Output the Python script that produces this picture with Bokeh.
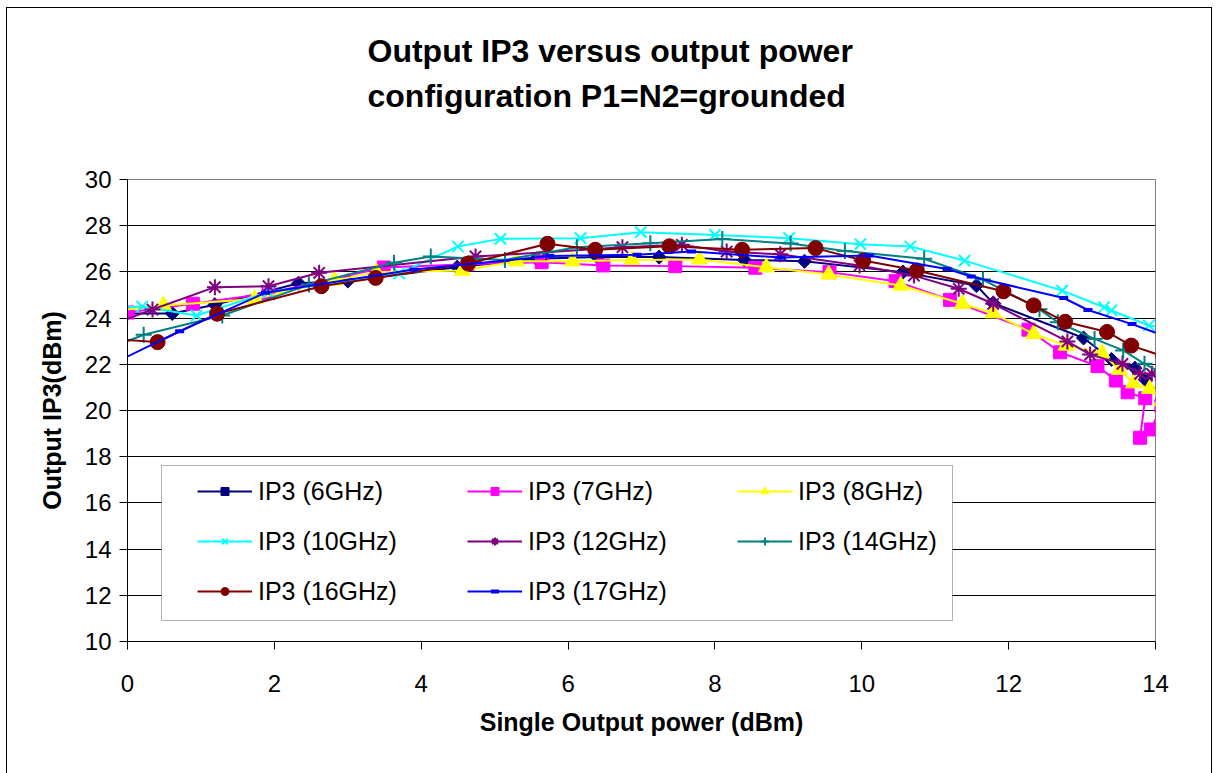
import numpy as np
from bokeh.plotting import figure
from bokeh.models import (Range1d, Legend, LegendItem, BoxAnnotation, FixedTicker,
                          InlineStyleSheet)
from bokeh.embed import file_html
from bokeh.resources import INLINE

FONT = "Liberation Sans"

# ---------------- data ----------------
labels = ["IP3 (6GHz)", "IP3 (7GHz)", "IP3 (8GHz)", "IP3 (10GHz)",
          "IP3 (12GHz)", "IP3 (14GHz)", "IP3 (16GHz)", "IP3 (17GHz)"]

x_6 = [-0.15, 0.61, 1.19, 2.33, 3.0, 4.49, 5.57, 6.40, 7.24, 8.40, 9.22, 10.56, 11.56, 11.79, 13.02, 13.40, 13.72, 13.86, 14.1]
y_6 = [24.2, 24.2, 24.58, 25.51, 25.61, 26.2, 26.57, 26.64, 26.64, 26.52, 26.46, 25.99, 25.41, 24.65, 23.14, 22.21, 21.83, 21.34, 20.6]

x_7 = [0.0, 0.89, 1.92, 3.49, 4.63, 5.64, 6.48, 7.46, 8.55, 9.56, 10.46, 11.2, 12.27, 12.70, 13.21, 13.46, 13.62, 13.86, 13.79, 13.94, 14.08]
y_7 = [24.24, 24.62, 25.08, 26.19, 26.33, 26.42, 26.28, 26.25, 26.18, 25.99, 25.6, 24.79, 23.5, 22.52, 21.92, 21.3, 20.79, 20.53, 18.82, 19.18, 20.2]

x_8 = [-0.2, 0.49, 1.73, 2.82, 3.39, 4.56, 5.30, 6.06, 6.87, 7.79, 8.70, 9.55, 10.53, 11.37, 11.79, 12.34, 12.78, 13.27, 13.51, 13.70, 13.92, 14.08]
y_8 = [24.3, 24.55, 24.83, 25.63, 25.99, 26.06, 26.46, 26.46, 26.52, 26.54, 26.2, 25.89, 25.41, 24.62, 24.21, 23.32, 22.81, 22.48, 21.76, 21.18, 20.94, 20.4]

x_10 = [-0.2, 0.2, 0.94, 1.92, 3.70, 4.50, 5.08, 6.17, 6.99, 8.0, 9.01, 9.98, 10.66, 11.40, 12.73, 13.30, 13.40, 13.91, 14.1]
y_10 = [24.45, 24.5, 24.11, 25.12, 25.94, 27.1, 27.43, 27.46, 27.72, 27.6, 27.46, 27.2, 27.1, 26.49, 25.19, 24.47, 24.33, 23.68, 23.6]

x_12 = [-0.1, 0.34, 1.19, 1.92, 2.61, 4.74, 5.70, 6.74, 7.55, 8.16, 8.89, 9.97, 10.71, 11.32, 11.79, 12.80, 13.11, 13.55, 13.79, 13.95, 14.1]
y_12 = [23.85, 24.37, 25.34, 25.38, 25.96, 26.67, 26.85, 27.07, 27.17, 26.88, 26.76, 26.28, 25.84, 25.27, 24.62, 22.99, 22.42, 22.02, 21.59, 21.59, 21.3]

x_14 = [-0.2, 0.22, 1.29, 2.47, 3.63, 4.13, 5.14, 6.12, 7.12, 8.10, 9.03, 9.77, 10.85, 11.65, 12.42, 12.67, 13.17, 13.56, 13.85, 14.1]
y_14 = [22.75, 23.28, 24.11, 25.45, 26.4, 26.67, 26.52, 27.07, 27.24, 27.42, 27.23, 26.9, 26.57, 25.67, 24.38, 23.82, 23.1, 22.6, 22.02, 21.6]

x_16 = [-0.2, 0.41, 1.22, 2.64, 3.38, 4.64, 5.72, 6.37, 7.38, 8.37, 9.37, 10.02, 10.75, 11.93, 12.34, 12.77, 13.34, 13.67, 14.1]
y_16 = [23.1, 22.96, 24.19, 25.38, 25.74, 26.36, 27.22, 26.96, 27.11, 26.96, 27.03, 26.49, 26.06, 25.16, 24.55, 23.84, 23.4, 22.81, 22.35]

x_17 = [-0.2, 0.71, 1.88, 3.9, 5.75, 6.94, 7.68, 8.90, 10.1, 11.16, 11.49, 12.75, 13.08, 13.68, 14.1]
y_17 = [22.03, 23.43, 25.1, 26.1, 26.69, 26.74, 26.88, 26.62, 26.71, 26.13, 25.8, 24.87, 24.35, 23.74, 23.25]

x_ticks = [0, 2, 4, 6, 8, 10, 12, 14]
y_ticks = [10, 12, 14, 16, 18, 20, 22, 24, 26, 28, 30]

title_lines = ["Output IP3 versus output power", "configuration P1=N2=grounded"]

series_x = [x_6, x_7, x_8, x_10, x_12, x_14, x_16, x_17]
series_y = [y_6, y_7, y_8, y_10, y_12, y_14, y_16, y_17]

# ---------------- styles ----------------
colors = ["#000080", "#FF00FF", "#FFFF00", "#00FFFF", "#800080", "#008080", "#800000", "#0000FF"]
markers = ["square", "square", "triangle", "x", "asterisk", "cross", "circle", "dash"]
sizes = [10, 13, 16, 16, 16, 16, 15, 9]
angles = [np.pi / 4, 0, 0, 0, 0, 0, 0, 0]
mlw = [1, 1, 1, 2, 2, 2, 1, 4]

W, H = 1202, 757
FL, FT, FW, FH = 127, 179, 1028, 462
p = figure(frame_width=FW, frame_height=FH,
           min_border_left=FL, min_border_right=W - FL - FW,
           min_border_top=FT, min_border_bottom=H - FT - FH,
           x_range=Range1d(0, 14), y_range=Range1d(10, 30),
           output_backend="svg", toolbar_location=None)

# thin black chart-area border, as in the spreadsheet export
p.stylesheets = [InlineStyleSheet(css=(
    ":host { position: relative; }"
    ":host::after { content: ''; position: absolute; left: 6px; top: 7px; right: -10px; bottom: -30px;"
    " border: 1px solid black; pointer-events: none; z-index: 100; }"))]

# two-line chart title (a trailing empty line keeps the block high above the frame)
p.title.text = "\n".join(title_lines) + "\n"
p.title.align = "left"
p.title.offset = 240
p.title.standoff = 42
p.title.text_line_height = 1.25
p.title.text_font = FONT
p.title.text_font_size = "32px"
p.title.text_font_style = "bold"
p.title.text_color = "black"

p.background_fill_color = "white"
p.border_fill_color = "white"
p.outline_line_color = "#808080"
p.outline_line_width = 1

p.xgrid.visible = False
p.ygrid.grid_line_color = "black"
p.ygrid.grid_line_width = 1
p.ygrid.ticker = FixedTicker(ticks=y_ticks)

for ax, ticks in ((p.xaxis, x_ticks), (p.yaxis, y_ticks)):
    ax.ticker = FixedTicker(ticks=ticks)
    ax.major_tick_out = 8
    ax.major_tick_in = 0
    ax.minor_tick_line_color = None
    ax.axis_line_color = "black"
    ax.major_tick_line_color = "black"
    ax.major_label_text_font = FONT
    ax.major_label_text_font_size = "24px"
    ax.major_label_text_color = "black"
    ax.axis_label_text_font = FONT
    ax.axis_label_text_font_size = "25px"
    ax.axis_label_text_font_style = "bold"
    ax.axis_label_text_color = "black"

p.xaxis.axis_label = "Single Output power (dBm)"
p.yaxis.axis_label = "Output IP3(dBm)"
p.xaxis.major_label_standoff = 25
p.yaxis.major_label_standoff = 8
p.xaxis.axis_label_standoff = 13
p.yaxis.axis_label_standoff = 16

items = []
for xs, ys, lab, c, m, s, a, lw in zip(series_x, series_y, labels, colors, markers, sizes, angles, mlw):
    lr = p.line(xs, ys, line_color=c, line_width=2)
    sr = p.scatter(xs, ys, marker=m, size=s, angle=a, fill_color=c, line_color=c, line_width=lw)
    items.append(LegendItem(label=lab, renderers=[lr, sr]))

# legend frame (white box covering the grid)
p.add_layout(BoxAnnotation(left=161, right=952, top=465, bottom=620,
                           left_units="canvas", right_units="canvas",
                           top_units="canvas", bottom_units="canvas",
                           fill_color="white", fill_alpha=1, line_color="black", line_width=1))

legend = Legend(items=items, location=(70, 25), orientation="horizontal", nrows=3,
                glyph_width=55, glyph_height=20, label_width=209, label_height=50,
                label_standoff=6, spacing=0, padding=0, margin=0,
                border_line_alpha=0, background_fill_alpha=0,
                label_text_font=FONT, label_text_font_size="25px", label_text_color="black")
p.add_layout(legend)

open("out.html", "w").write(file_html(p, INLINE))
